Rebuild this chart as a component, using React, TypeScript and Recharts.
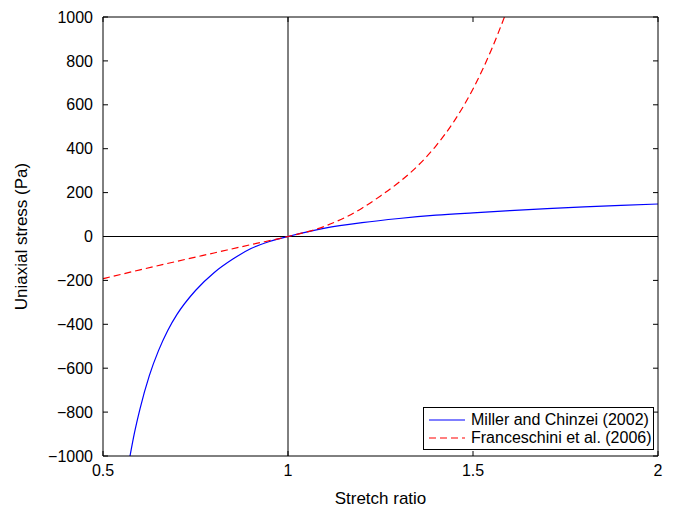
import React from 'react';
import { LineChart, Line, XAxis, YAxis, ReferenceLine } from 'recharts';

// Miller and Chinzei (2002) curve
const millerStretch = [0.573, 0.585, 0.6, 0.625, 0.65, 0.675, 0.7, 0.75, 0.8, 0.85, 0.9, 0.95, 1.0, 1.1, 1.2, 1.3, 1.4, 1.5, 1.6, 1.7, 1.8, 1.9, 2.0];
const millerStress = [-1000, -895, -785, -635, -520, -428, -355, -246, -165, -104, -55, -23, 0, 38, 63, 82, 97, 108, 118, 127, 135, 142, 148];

// Franceschini et al. (2006) curve
const franStretch = [0.5, 0.6, 0.7, 0.8, 0.9, 1.0, 1.1, 1.2, 1.25, 1.3, 1.35, 1.4, 1.45, 1.5, 1.55, 1.585];
const franStress = [-192, -152, -113, -75, -37, 0, 47, 129, 185, 247, 321, 413, 528, 672, 852, 1000];

const xTicks = [0.5, 1, 1.5, 2];
const yTicks = [-1000, -800, -600, -400, -200, 0, 200, 400, 600, 800, 1000];

const millerData = millerStretch.map((x, i) => ({ x, y: millerStress[i] }));
const franData = franStretch.map((x, i) => ({ x, y: franStress[i] }));

const FONT = 'Liberation Sans, Arial, Helvetica, sans-serif';
const fmt = (v: number) => (v < 0 ? '\u2212' + Math.abs(v) : String(v));

const legendItems = [
  { name: 'Miller and Chinzei (2002)', color: '#0000ff', dash: undefined },
  { name: 'Franceschini et al. (2006)', color: '#ff0000', dash: '7 4' },
];

const LegendBox = () => (
  <div
    style={{
      position: 'absolute',
      left: 423,
      top: 407,
      width: 231,
      height: 43,
      border: '1px solid #000',
      background: '#fff',
      fontFamily: FONT,
      fontSize: 16,
      color: '#000',
      boxSizing: 'border-box',
      paddingTop: 3,
    }}
  >
    {legendItems.map((e) => (
      <div key={e.name} style={{ display: 'flex', alignItems: 'center', height: 18 }}>
        <svg width={47} height={18} style={{ flex: 'none' }}>
          <line x1={5} x2={41} y1={9} y2={9} stroke={e.color} strokeWidth={1.2} strokeDasharray={e.dash} />
        </svg>
        <span style={{ whiteSpace: 'nowrap' }}>{e.name}</span>
      </div>
    ))}
  </div>
);

export default function App() {
  return (
    <div style={{ position: 'absolute', left: 0, top: 0, width: 677, height: 510, background: '#fff' }}>
      <LineChart width={677} height={510} margin={{ top: 16, right: 18, left: 0, bottom: 0 }}>
        <XAxis
          xAxisId="b"
          type="number"
          dataKey="x"
          domain={[0.5, 2]}
          ticks={xTicks}
          allowDataOverflow
          height={54}
          stroke="#000"
          tickSize={-5}
          tickMargin={14}
          tick={{ fill: '#000', fontSize: 16, fontFamily: FONT }}
          label={{ value: 'Stretch ratio', position: 'insideBottom', offset: 6, fill: '#000', fontSize: 17, fontFamily: FONT }}
        />
        <XAxis
          xAxisId="t"
          orientation="top"
          type="number"
          dataKey="x"
          domain={[0.5, 2]}
          ticks={xTicks}
          allowDataOverflow
          height={1}
          stroke="#000"
          tickSize={-5}
          tickFormatter={() => ''}
        />
        <YAxis
          yAxisId="l"
          type="number"
          domain={[-1000, 1000]}
          ticks={yTicks}
          allowDataOverflow
          width={103}
          stroke="#000"
          tickSize={-5}
          tickMargin={15}
          tickFormatter={fmt}
          tick={{ fill: '#000', fontSize: 16, fontFamily: FONT }}
          label={{ value: 'Uniaxial stress (Pa)', angle: -90, position: 'insideLeft', offset: 21, fill: '#000', fontSize: 17, fontFamily: FONT, style: { textAnchor: 'middle' } }}
        />
        <YAxis
          yAxisId="r"
          orientation="right"
          type="number"
          domain={[-1000, 1000]}
          ticks={yTicks}
          allowDataOverflow
          width={1}
          stroke="#000"
          tickSize={-5}
          tickFormatter={() => ''}
        />
        <ReferenceLine xAxisId="b" yAxisId="l" x={1} stroke="#000" strokeWidth={1} />
        <ReferenceLine xAxisId="b" yAxisId="l" y={0} stroke="#000" strokeWidth={1} />
        <Line
          xAxisId="b"
          yAxisId="l"
          data={millerData}
          dataKey="y"
          type="monotone"
          stroke="#0000ff"
          strokeWidth={1.2}
          dot={false}
          isAnimationActive={false}
        />
        <Line
          xAxisId="b"
          yAxisId="l"
          data={franData}
          dataKey="y"
          type="monotone"
          stroke="#ff0000"
          strokeWidth={1.2}
          strokeDasharray="7 4"
          dot={false}
          isAnimationActive={false}
        />
      </LineChart>
      <LegendBox />
    </div>
  );
}
